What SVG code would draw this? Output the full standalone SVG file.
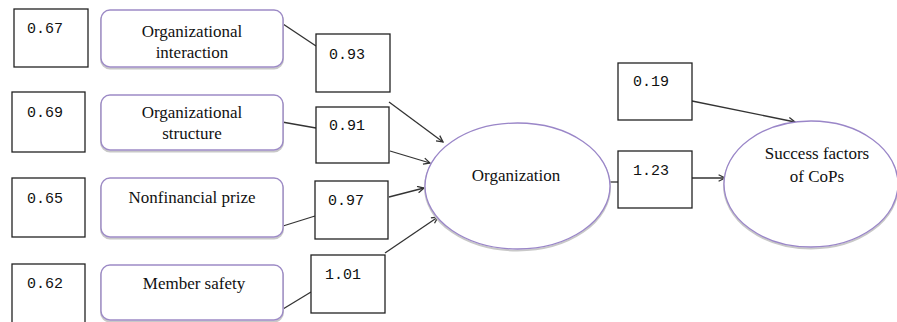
<svg xmlns="http://www.w3.org/2000/svg" width="897" height="322" viewBox="0 0 897 322">
<style>
.box{fill:#fff;stroke:#222;stroke-width:1.3}
.rr{fill:#fff;stroke:#9d8bc6;stroke-width:1.4}
.sh{fill:none;stroke:#c8c8c8;stroke-width:2}
.ell{fill:#fff;stroke:#9a86c8;stroke-width:1.3}
.num{font-family:"Liberation Mono","DejaVu Sans Mono",monospace;font-size:15px;fill:#111}
.lbl{font-family:"Liberation Serif","DejaVu Serif",serif;font-size:17px;fill:#111;text-anchor:middle}
.ln{stroke:#333;stroke-width:1.3;fill:none}
.ar{stroke:#333;stroke-width:1.3;fill:none;marker-end:url(#ah)}
</style>
<defs>
<marker id="ah" viewBox="0 0 10 10" refX="9" refY="5" markerWidth="8" markerHeight="8" markerUnits="userSpaceOnUse" orient="auto">
<path d="M1,1 L9,5 L1,9" fill="none" stroke="#333" stroke-width="1.6"/>
</marker>
</defs>
<rect width="897" height="322" fill="#fff"/>

<g id="connectors">
<line class="ln" x1="283" y1="24" x2="316" y2="46"/>
<line class="ln" x1="282" y1="122" x2="316" y2="128"/>
<line class="ln" x1="283" y1="226" x2="315" y2="216"/>
<line class="ln" x1="283" y1="309" x2="311" y2="292"/>
<line class="ar" x1="389" y1="102" x2="443" y2="142"/>
<line class="ar" x1="390" y1="151" x2="430" y2="163"/>
<line class="ar" x1="389" y1="197" x2="424" y2="188"/>
<line class="ar" x1="385" y1="253" x2="438" y2="217"/>
<line class="ln" x1="610" y1="182" x2="618" y2="182"/>
<line class="ar" x1="692" y1="178" x2="725" y2="178"/>
<line class="ar" x1="692" y1="101" x2="795" y2="122"/>
</g>

<g id="e1"><rect class="box" x="14" y="9" width="74" height="58"/><text class="num" x="27" y="33">0.67</text></g>
<g id="e2"><rect class="box" x="12" y="92" width="73" height="60"/><text class="num" x="27" y="117">0.69</text></g>
<g id="e3"><rect class="box" x="12" y="178" width="73" height="59"/><text class="num" x="27" y="203">0.65</text></g>
<g id="e4"><rect class="box" x="12" y="264" width="73" height="62"/><text class="num" x="27" y="288">0.62</text></g>

<g id="n1"><rect class="sh" x="101" y="11.5" width="182" height="57" rx="9"/><rect class="rr" x="101" y="10" width="182" height="57" rx="9"/>
<text class="lbl" x="192" y="37">Organizational</text><text class="lbl" x="192" y="58">interaction</text></g>
<g id="n2"><rect class="sh" x="101" y="96.5" width="182" height="55" rx="9"/><rect class="rr" x="101" y="95" width="182" height="55" rx="9"/>
<text class="lbl" x="192" y="118">Organizational</text><text class="lbl" x="192" y="139">structure</text></g>
<g id="n3"><rect class="sh" x="101" y="179.5" width="182" height="59" rx="9"/><rect class="rr" x="101" y="178" width="182" height="59" rx="9"/>
<text class="lbl" x="192" y="203">Nonfinancial prize</text></g>
<g id="n4"><rect class="sh" x="101" y="266.5" width="182" height="55" rx="9"/><rect class="rr" x="101" y="265" width="182" height="55" rx="9"/>
<text class="lbl" x="194" y="289">Member safety</text></g>

<g id="w1"><rect class="box" x="316" y="34" width="74" height="58"/><text class="num" x="329" y="59">0.93</text></g>
<g id="w2"><rect class="box" x="316" y="107" width="73" height="56"/><text class="num" x="329" y="130">0.91</text></g>
<g id="w3"><rect class="box" x="315" y="181" width="73" height="58"/><text class="num" x="328" y="205">0.97</text></g>
<g id="w4"><rect class="box" x="311" y="255" width="74" height="58"/><text class="num" x="325" y="279">1.01</text></g>

<g id="org"><ellipse class="sh" cx="517.5" cy="187.5" rx="92.5" ry="63"/><ellipse class="ell" cx="517.5" cy="186" rx="92.5" ry="63"/>
<text class="lbl" x="516" y="181">Organization</text></g>

<g id="d1"><rect class="box" x="618" y="63" width="74" height="57"/><text class="num" x="633" y="86">0.19</text></g>
<g id="w5"><rect class="box" x="618" y="151" width="74" height="57"/><text class="num" x="633" y="175">1.23</text></g>

<g id="succ"><ellipse class="sh" cx="811" cy="185.5" rx="87" ry="63"/><ellipse class="ell" cx="811" cy="184" rx="87" ry="63"/>
<text class="lbl" x="817" y="159">Success factors</text><text class="lbl" x="817" y="182">of CoPs</text></g>
</svg>
